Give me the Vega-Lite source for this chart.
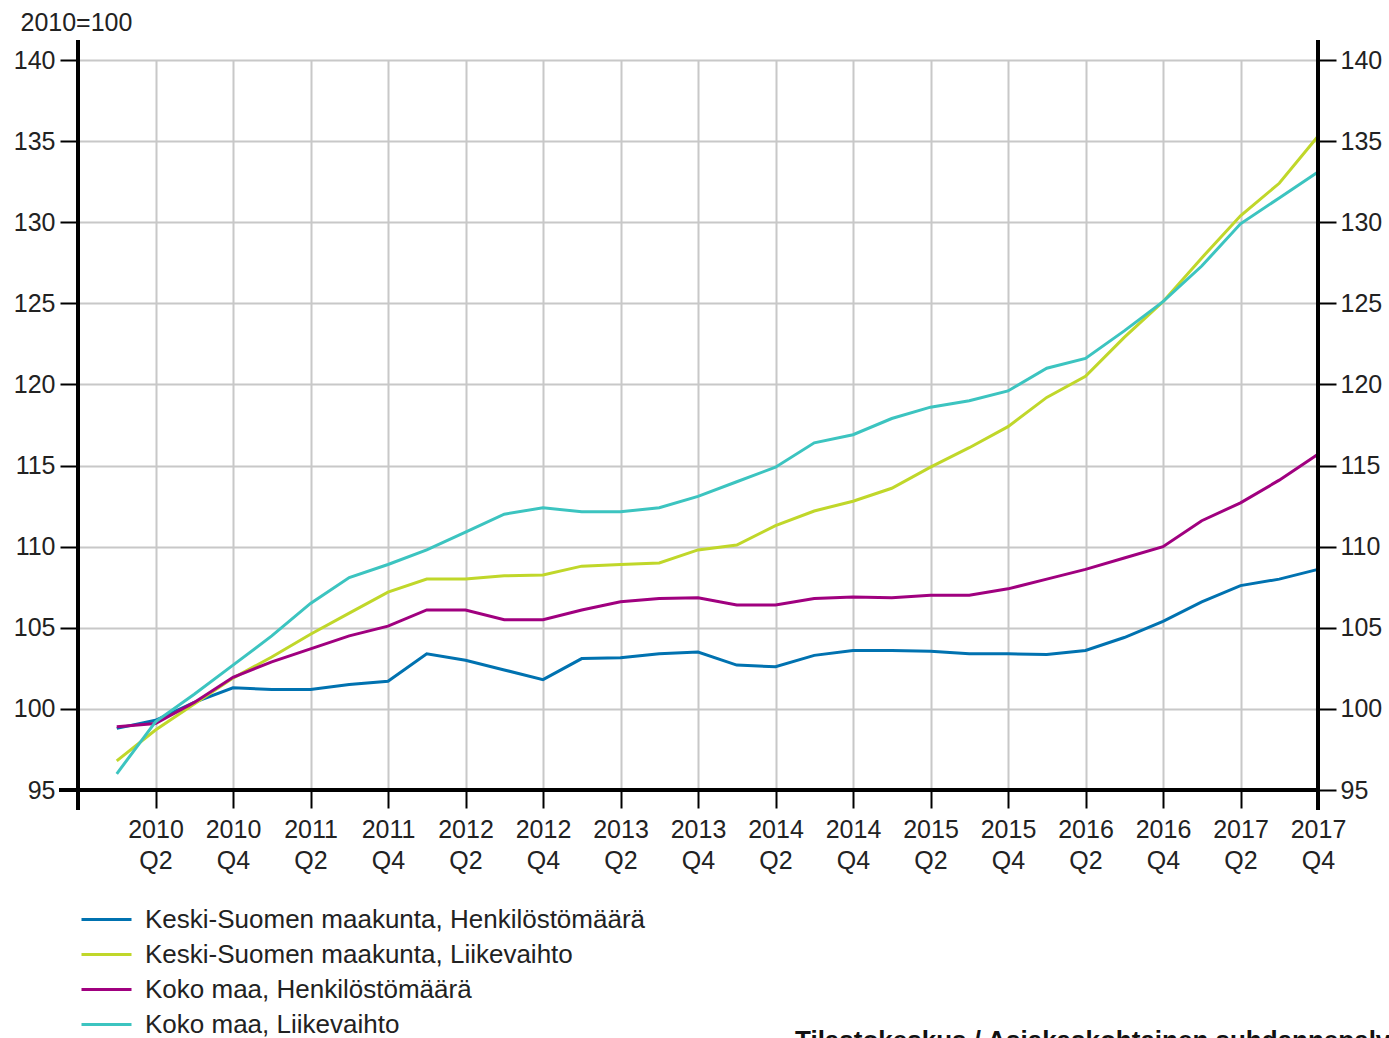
{
  "$schema": "https://vega.github.io/schema/vega-lite/v6.json",
  "width": 1240,
  "height": 730,
  "autosize": "none",
  "padding": {"left": 78, "top": 60, "right": 71, "bottom": 248},
  "background": "white",
  "config": {
    "font": "Liberation Sans",
    "view": {"stroke": null},
    "axis": {"labelFont": "Liberation Sans", "labelColor": "#222", "labelFontSize": 25, "titleFont": "Liberation Sans"},
    "legend": {"labelFont": "Liberation Sans"}
  },
  "title": {
    "text": "Tilastokeskus / Asiakaskohtainen suhdannepalvelu",
    "orient": "bottom",
    "anchor": "start",
    "frame": "group",
    "dx": 717,
    "offset": -14,
    "fontSize": 26,
    "fontWeight": "bold",
    "font": "Liberation Sans",
    "color": "#111"
  },
  "data": {
    "values": [
      {"t": 1, "s": "Keski-Suomen maakunta, Henkilöstömäärä", "v": 98.8},
      {"t": 2, "s": "Keski-Suomen maakunta, Henkilöstömäärä", "v": 99.3},
      {"t": 3, "s": "Keski-Suomen maakunta, Henkilöstömäärä", "v": 100.4},
      {"t": 4, "s": "Keski-Suomen maakunta, Henkilöstömäärä", "v": 101.3},
      {"t": 5, "s": "Keski-Suomen maakunta, Henkilöstömäärä", "v": 101.2},
      {"t": 6, "s": "Keski-Suomen maakunta, Henkilöstömäärä", "v": 101.2},
      {"t": 7, "s": "Keski-Suomen maakunta, Henkilöstömäärä", "v": 101.5},
      {"t": 8, "s": "Keski-Suomen maakunta, Henkilöstömäärä", "v": 101.7},
      {"t": 9, "s": "Keski-Suomen maakunta, Henkilöstömäärä", "v": 103.4},
      {"t": 10, "s": "Keski-Suomen maakunta, Henkilöstömäärä", "v": 103.0},
      {"t": 11, "s": "Keski-Suomen maakunta, Henkilöstömäärä", "v": 102.4},
      {"t": 12, "s": "Keski-Suomen maakunta, Henkilöstömäärä", "v": 101.8},
      {"t": 13, "s": "Keski-Suomen maakunta, Henkilöstömäärä", "v": 103.1},
      {"t": 14, "s": "Keski-Suomen maakunta, Henkilöstömäärä", "v": 103.15},
      {"t": 15, "s": "Keski-Suomen maakunta, Henkilöstömäärä", "v": 103.4},
      {"t": 16, "s": "Keski-Suomen maakunta, Henkilöstömäärä", "v": 103.5},
      {"t": 17, "s": "Keski-Suomen maakunta, Henkilöstömäärä", "v": 102.7},
      {"t": 18, "s": "Keski-Suomen maakunta, Henkilöstömäärä", "v": 102.6},
      {"t": 19, "s": "Keski-Suomen maakunta, Henkilöstömäärä", "v": 103.3},
      {"t": 20, "s": "Keski-Suomen maakunta, Henkilöstömäärä", "v": 103.6},
      {"t": 21, "s": "Keski-Suomen maakunta, Henkilöstömäärä", "v": 103.6},
      {"t": 22, "s": "Keski-Suomen maakunta, Henkilöstömäärä", "v": 103.55},
      {"t": 23, "s": "Keski-Suomen maakunta, Henkilöstömäärä", "v": 103.4},
      {"t": 24, "s": "Keski-Suomen maakunta, Henkilöstömäärä", "v": 103.4},
      {"t": 25, "s": "Keski-Suomen maakunta, Henkilöstömäärä", "v": 103.35},
      {"t": 26, "s": "Keski-Suomen maakunta, Henkilöstömäärä", "v": 103.6},
      {"t": 27, "s": "Keski-Suomen maakunta, Henkilöstömäärä", "v": 104.4},
      {"t": 28, "s": "Keski-Suomen maakunta, Henkilöstömäärä", "v": 105.4},
      {"t": 29, "s": "Keski-Suomen maakunta, Henkilöstömäärä", "v": 106.6},
      {"t": 30, "s": "Keski-Suomen maakunta, Henkilöstömäärä", "v": 107.6},
      {"t": 31, "s": "Keski-Suomen maakunta, Henkilöstömäärä", "v": 108.0},
      {"t": 32, "s": "Keski-Suomen maakunta, Henkilöstömäärä", "v": 108.6},
      {"t": 1, "s": "Keski-Suomen maakunta, Liikevaihto", "v": 96.8},
      {"t": 2, "s": "Keski-Suomen maakunta, Liikevaihto", "v": 98.7},
      {"t": 3, "s": "Keski-Suomen maakunta, Liikevaihto", "v": 100.3},
      {"t": 4, "s": "Keski-Suomen maakunta, Liikevaihto", "v": 101.9},
      {"t": 5, "s": "Keski-Suomen maakunta, Liikevaihto", "v": 103.2},
      {"t": 6, "s": "Keski-Suomen maakunta, Liikevaihto", "v": 104.6},
      {"t": 7, "s": "Keski-Suomen maakunta, Liikevaihto", "v": 105.9},
      {"t": 8, "s": "Keski-Suomen maakunta, Liikevaihto", "v": 107.2},
      {"t": 9, "s": "Keski-Suomen maakunta, Liikevaihto", "v": 108.0},
      {"t": 10, "s": "Keski-Suomen maakunta, Liikevaihto", "v": 108.0},
      {"t": 11, "s": "Keski-Suomen maakunta, Liikevaihto", "v": 108.2},
      {"t": 12, "s": "Keski-Suomen maakunta, Liikevaihto", "v": 108.25},
      {"t": 13, "s": "Keski-Suomen maakunta, Liikevaihto", "v": 108.8},
      {"t": 14, "s": "Keski-Suomen maakunta, Liikevaihto", "v": 108.9},
      {"t": 15, "s": "Keski-Suomen maakunta, Liikevaihto", "v": 109.0},
      {"t": 16, "s": "Keski-Suomen maakunta, Liikevaihto", "v": 109.8},
      {"t": 17, "s": "Keski-Suomen maakunta, Liikevaihto", "v": 110.1},
      {"t": 18, "s": "Keski-Suomen maakunta, Liikevaihto", "v": 111.3},
      {"t": 19, "s": "Keski-Suomen maakunta, Liikevaihto", "v": 112.2},
      {"t": 20, "s": "Keski-Suomen maakunta, Liikevaihto", "v": 112.8},
      {"t": 21, "s": "Keski-Suomen maakunta, Liikevaihto", "v": 113.6},
      {"t": 22, "s": "Keski-Suomen maakunta, Liikevaihto", "v": 114.9},
      {"t": 23, "s": "Keski-Suomen maakunta, Liikevaihto", "v": 116.1},
      {"t": 24, "s": "Keski-Suomen maakunta, Liikevaihto", "v": 117.4},
      {"t": 25, "s": "Keski-Suomen maakunta, Liikevaihto", "v": 119.2},
      {"t": 26, "s": "Keski-Suomen maakunta, Liikevaihto", "v": 120.5},
      {"t": 27, "s": "Keski-Suomen maakunta, Liikevaihto", "v": 122.9},
      {"t": 28, "s": "Keski-Suomen maakunta, Liikevaihto", "v": 125.1},
      {"t": 29, "s": "Keski-Suomen maakunta, Liikevaihto", "v": 127.8},
      {"t": 30, "s": "Keski-Suomen maakunta, Liikevaihto", "v": 130.4},
      {"t": 31, "s": "Keski-Suomen maakunta, Liikevaihto", "v": 132.4},
      {"t": 32, "s": "Keski-Suomen maakunta, Liikevaihto", "v": 135.3},
      {"t": 1, "s": "Koko maa, Henkilöstömäärä", "v": 98.9},
      {"t": 2, "s": "Koko maa, Henkilöstömäärä", "v": 99.1},
      {"t": 3, "s": "Koko maa, Henkilöstömäärä", "v": 100.4},
      {"t": 4, "s": "Koko maa, Henkilöstömäärä", "v": 101.95},
      {"t": 5, "s": "Koko maa, Henkilöstömäärä", "v": 102.9},
      {"t": 6, "s": "Koko maa, Henkilöstömäärä", "v": 103.7},
      {"t": 7, "s": "Koko maa, Henkilöstömäärä", "v": 104.5},
      {"t": 8, "s": "Koko maa, Henkilöstömäärä", "v": 105.1},
      {"t": 9, "s": "Koko maa, Henkilöstömäärä", "v": 106.1},
      {"t": 10, "s": "Koko maa, Henkilöstömäärä", "v": 106.1},
      {"t": 11, "s": "Koko maa, Henkilöstömäärä", "v": 105.5},
      {"t": 12, "s": "Koko maa, Henkilöstömäärä", "v": 105.5},
      {"t": 13, "s": "Koko maa, Henkilöstömäärä", "v": 106.1},
      {"t": 14, "s": "Koko maa, Henkilöstömäärä", "v": 106.6},
      {"t": 15, "s": "Koko maa, Henkilöstömäärä", "v": 106.8},
      {"t": 16, "s": "Koko maa, Henkilöstömäärä", "v": 106.85},
      {"t": 17, "s": "Koko maa, Henkilöstömäärä", "v": 106.4},
      {"t": 18, "s": "Koko maa, Henkilöstömäärä", "v": 106.4},
      {"t": 19, "s": "Koko maa, Henkilöstömäärä", "v": 106.8},
      {"t": 20, "s": "Koko maa, Henkilöstömäärä", "v": 106.9},
      {"t": 21, "s": "Koko maa, Henkilöstömäärä", "v": 106.85},
      {"t": 22, "s": "Koko maa, Henkilöstömäärä", "v": 107.0},
      {"t": 23, "s": "Koko maa, Henkilöstömäärä", "v": 107.0},
      {"t": 24, "s": "Koko maa, Henkilöstömäärä", "v": 107.4},
      {"t": 25, "s": "Koko maa, Henkilöstömäärä", "v": 108.0},
      {"t": 26, "s": "Koko maa, Henkilöstömäärä", "v": 108.6},
      {"t": 27, "s": "Koko maa, Henkilöstömäärä", "v": 109.3},
      {"t": 28, "s": "Koko maa, Henkilöstömäärä", "v": 110.0},
      {"t": 29, "s": "Koko maa, Henkilöstömäärä", "v": 111.6},
      {"t": 30, "s": "Koko maa, Henkilöstömäärä", "v": 112.7},
      {"t": 31, "s": "Koko maa, Henkilöstömäärä", "v": 114.1},
      {"t": 32, "s": "Koko maa, Henkilöstömäärä", "v": 115.7},
      {"t": 1, "s": "Koko maa, Liikevaihto", "v": 96.0},
      {"t": 2, "s": "Koko maa, Liikevaihto", "v": 99.2},
      {"t": 3, "s": "Koko maa, Liikevaihto", "v": 100.9},
      {"t": 4, "s": "Koko maa, Liikevaihto", "v": 102.7},
      {"t": 5, "s": "Koko maa, Liikevaihto", "v": 104.5},
      {"t": 6, "s": "Koko maa, Liikevaihto", "v": 106.5},
      {"t": 7, "s": "Koko maa, Liikevaihto", "v": 108.1},
      {"t": 8, "s": "Koko maa, Liikevaihto", "v": 108.9},
      {"t": 9, "s": "Koko maa, Liikevaihto", "v": 109.8},
      {"t": 10, "s": "Koko maa, Liikevaihto", "v": 110.9},
      {"t": 11, "s": "Koko maa, Liikevaihto", "v": 112.0},
      {"t": 12, "s": "Koko maa, Liikevaihto", "v": 112.4},
      {"t": 13, "s": "Koko maa, Liikevaihto", "v": 112.15},
      {"t": 14, "s": "Koko maa, Liikevaihto", "v": 112.15},
      {"t": 15, "s": "Koko maa, Liikevaihto", "v": 112.4},
      {"t": 16, "s": "Koko maa, Liikevaihto", "v": 113.1},
      {"t": 17, "s": "Koko maa, Liikevaihto", "v": 114.0},
      {"t": 18, "s": "Koko maa, Liikevaihto", "v": 114.9},
      {"t": 19, "s": "Koko maa, Liikevaihto", "v": 116.4},
      {"t": 20, "s": "Koko maa, Liikevaihto", "v": 116.9},
      {"t": 21, "s": "Koko maa, Liikevaihto", "v": 117.9},
      {"t": 22, "s": "Koko maa, Liikevaihto", "v": 118.6},
      {"t": 23, "s": "Koko maa, Liikevaihto", "v": 119.0},
      {"t": 24, "s": "Koko maa, Liikevaihto", "v": 119.6},
      {"t": 25, "s": "Koko maa, Liikevaihto", "v": 121.0},
      {"t": 26, "s": "Koko maa, Liikevaihto", "v": 121.6},
      {"t": 27, "s": "Koko maa, Liikevaihto", "v": 123.3},
      {"t": 28, "s": "Koko maa, Liikevaihto", "v": 125.1},
      {"t": 29, "s": "Koko maa, Liikevaihto", "v": 127.3},
      {"t": 30, "s": "Koko maa, Liikevaihto", "v": 129.9},
      {"t": 31, "s": "Koko maa, Liikevaihto", "v": 131.5},
      {"t": 32, "s": "Koko maa, Liikevaihto", "v": 133.1}
    ]
  },
  "layer": [
    {
      "layer": [
        {
          "mark": {"type": "line", "strokeWidth": 3, "interpolate": "linear"},
          "encoding": {
            "x": {
              "field": "t",
              "type": "quantitative",
              "scale": {"domain": [0, 32], "nice": false, "zero": false},
              "axis": {
                "title": null,
                "values": [2, 4, 6, 8, 10, 12, 14, 16, 18, 20, 22, 24, 26, 28, 30, 32],
                "labelExpr": "[toString(2010 + floor((datum.value - 1) / 4)), 'Q' + toString(((datum.value - 1) % 4) + 1)]",
                "labelLineHeight": 31,
                "labelPadding": 9,
                "labelFlush": false,
                "labelOverlap": false,
                "domain": false,
                "tickSize": 18,
                "tickWidth": 2,
                "tickColor": "black",
                "grid": true,
                "gridColor": "#c8c8c8",
                "gridWidth": 2
              }
            },
            "y": {
              "field": "v",
              "type": "quantitative",
              "scale": {"domain": [95, 140], "nice": false, "zero": false},
              "axis": {
                "title": "2010=100",
                "titleAngle": 0,
                "titleAlign": "left",
                "titleBaseline": "middle",
                "titleX": -58,
                "titleY": -38,
                "titleFontSize": 25,
                "titleFontWeight": "normal",
                "titleColor": "#222",
                "values": [95, 100, 105, 110, 115, 120, 125, 130, 135, 140],
                "labelPadding": 5,
                "domain": false,
                "tickSize": 18,
                "tickWidth": 2,
                "tickColor": "black",
                "grid": true,
                "gridColor": "#c8c8c8",
                "gridWidth": 2
              }
            },
            "color": {
              "field": "s",
              "type": "nominal",
              "scale": {
                "domain": ["Keski-Suomen maakunta, Henkilöstömäärä", "Keski-Suomen maakunta, Liikevaihto", "Koko maa, Henkilöstömäärä", "Koko maa, Liikevaihto"],
                "range": ["#0072b0", "#c0d72a", "#a0007f", "#3cc4c0"]
              },
              "legend": {
                "title": null,
                "orient": "none",
                "legendX": 2,
                "legendY": 842,
                "symbolType": "stroke",
                "symbolSize": 2500,
                "symbolStrokeWidth": 3,
                "clipHeight": 35,
                "labelFontSize": 26,
                "labelColor": "#222",
                "labelOffset": 12,
                "labelLimit": 0,
                "rowPadding": 0
              }
            }
          }
        },
        {
          "mark": {"type": "rule", "color": "black", "strokeWidth": 3},
          "encoding": {"x": {"datum": 0}, "y": {"datum": 141.2}, "y2": {"datum": 93.8}}
        },
        {
          "mark": {"type": "rule", "color": "black", "strokeWidth": 3},
          "encoding": {"x": {"datum": 32}, "y": {"datum": 141.2}, "y2": {"datum": 93.8}}
        },
        {
          "mark": {"type": "rule", "color": "black", "strokeWidth": 3},
          "encoding": {"y": {"datum": 95}, "x": {"datum": -0.47}, "x2": {"datum": 32}}
        }
      ]
    },
    {
      "mark": {"type": "line", "opacity": 0},
      "encoding": {
        "x": {"field": "t", "type": "quantitative"},
        "y": {
          "field": "v",
          "type": "quantitative",
          "scale": {"domain": [95, 140], "nice": false, "zero": false},
          "axis": {
            "orient": "right",
            "title": null,
            "values": [95, 100, 105, 110, 115, 120, 125, 130, 135, 140],
            "labelPadding": 4,
            "domain": false,
            "tickSize": 18,
            "tickWidth": 2,
            "tickColor": "black",
            "grid": false
          }
        },
        "detail": {"field": "s"}
      }
    }
  ],
  "resolve": {"scale": {"y": "independent"}}
}
